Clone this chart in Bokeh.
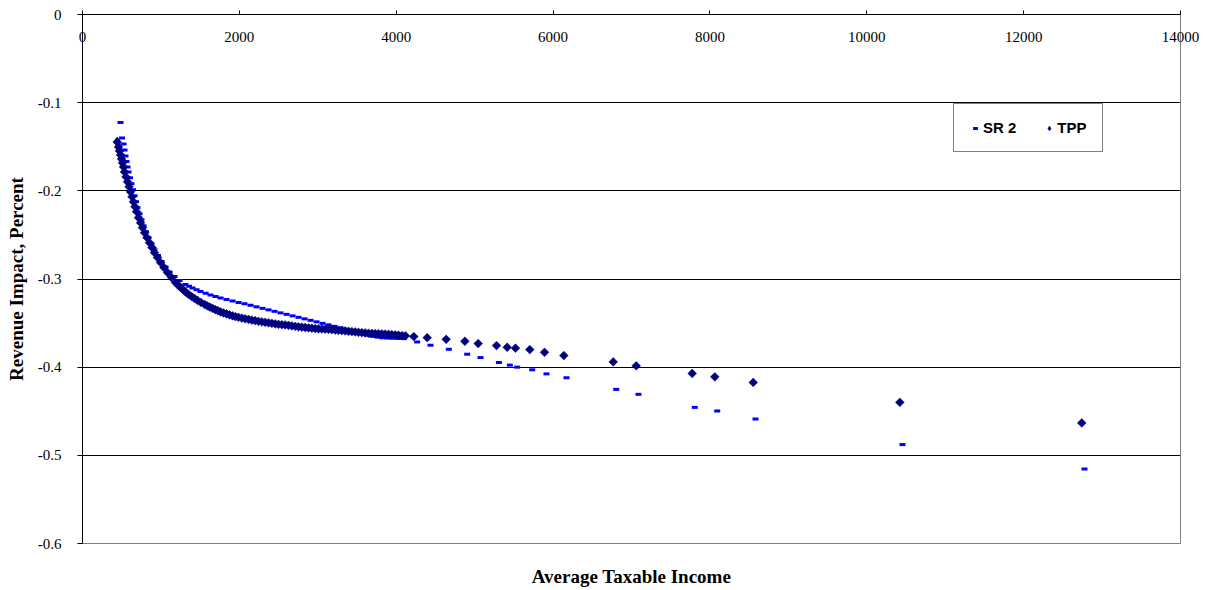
import math
from bokeh.plotting import figure
from bokeh.models import LinearAxis, FixedTicker, Legend, LegendItem, Grid, ColumnDataSource
from bokeh.embed import file_html
from bokeh.resources import INLINE

# ---------------- data ----------------
tpp_x = [442, 459, 472, 485, 497, 510, 523, 536, 555, 574, 593, 612, 631, 650, 669, 689,
         714, 740, 765, 791, 822, 854, 886, 918, 956, 995, 1039, 1084, 1135, 1186, 1218,
         1250, 1282, 1313, 1350, 1390, 1428, 1466, 1510,
         1556, 1590, 1624, 1658, 1692, 1726, 1760, 1798, 1836, 1874, 1912, 1950, 1989,
         2032, 2074, 2117, 2159, 2202, 2244, 2287, 2329, 2372, 2414, 2457, 2499, 2542,
         2584, 2627, 2669, 2712, 2754, 2797, 2839, 2882, 2924, 2967, 3009, 3052, 3094,
         3137, 3179, 3222, 3264, 3307, 3349, 3392, 3434, 3477, 3519, 3562, 3604, 3647,
         3689, 3732, 3774, 3817, 3859, 3902, 3944, 3987, 4029, 4074, 4118,
         4224, 4395, 4637, 4875, 5045, 5279, 5415, 5521, 5703, 5891, 6137, 6767, 7060,
         7774, 8062, 8552, 10421, 12741]
tpp_y = [-0.1446, -0.1503, -0.1548, -0.1593, -0.1638, -0.1684, -0.1729, -0.1785, -0.1842,
         -0.1898, -0.1955, -0.2011, -0.2068, -0.2124, -0.2181, -0.2237, -0.2305, -0.2362,
         -0.2418, -0.2475, -0.2531, -0.2588, -0.2644, -0.2701, -0.2757, -0.2814, -0.2870,
         -0.2927, -0.2983, -0.3040, -0.3069, -0.3096, -0.3122, -0.3147, -0.3173, -0.3198,
         -0.3221, -0.3243, -0.3266,
         -0.3288, -0.3304, -0.3318, -0.3333, -0.3347, -0.3360, -0.3373, -0.3385, -0.3396,
         -0.3407, -0.3417, -0.3426, -0.3435, -0.3443, -0.3451, -0.3458, -0.3466, -0.3473,
         -0.3480, -0.3486, -0.3491, -0.3497, -0.3503, -0.3509, -0.3514, -0.3518, -0.3521,
         -0.3525, -0.3531, -0.3537, -0.3542, -0.3546, -0.3550, -0.3554, -0.3558, -0.3562,
         -0.3565, -0.3567, -0.3569, -0.3571, -0.3575, -0.3579, -0.3582, -0.3586, -0.3589,
         -0.3593, -0.3597, -0.3601, -0.3605, -0.3609, -0.3612, -0.3616, -0.3618, -0.3619,
         -0.3621, -0.3623, -0.3625, -0.3627, -0.3631, -0.3634, -0.3638, -0.3641, -0.3644,
         -0.3653, -0.3665, -0.3684, -0.3706, -0.3732, -0.3755, -0.3774, -0.3785, -0.3800,
         -0.3831, -0.3868, -0.3940, -0.3985, -0.4071, -0.4110, -0.4173, -0.4399, -0.4633]

sr2_x = [485, 504, 523, 536, 548, 561, 574, 587, 606, 625, 644, 663, 682, 701, 727, 752,
         778, 810, 842, 880, 918, 963, 1007, 1058, 1109, 1173, 1237, 1313, 1358, 1403,
         1455, 1505, 1570, 1632, 1696, 1760, 1836, 1913, 1990, 2066, 2143, 2219, 2296,
         2372, 2449, 2525, 2602, 2678, 2755, 2831, 2908, 2984, 3061, 3137, 3214, 3290,
         3367, 3443, 3507, 3570, 3634, 3698, 3761, 3825, 3889, 3953, 4025,
         4097, 4267, 4437, 4671, 4905, 5075, 5309, 5449, 5542, 5734, 5916, 6171, 6805,
         7089, 7807, 8093, 8581, 10455, 12776]
sr2_y = [-0.1226, -0.1401, -0.1469, -0.1537, -0.1605, -0.1667, -0.1729, -0.1785, -0.1853,
         -0.1921, -0.1989, -0.2056, -0.2124, -0.2192, -0.2260, -0.2328, -0.2395, -0.2463,
         -0.2531, -0.2599, -0.2667, -0.2734, -0.2802, -0.2864, -0.2921, -0.2972, -0.3017,
         -0.3062, -0.3082, -0.3102, -0.3122, -0.3141, -0.3162, -0.3181, -0.3198, -0.3215,
         -0.3232, -0.3249, -0.3266, -0.3282, -0.3299, -0.3316, -0.3333, -0.3350, -0.3367,
         -0.3384, -0.3401, -0.3418, -0.3435, -0.3452, -0.3469, -0.3486, -0.3503, -0.3520,
         -0.3537, -0.3554, -0.3571, -0.3588, -0.3605, -0.3621, -0.3636, -0.3650, -0.3659,
         -0.3667, -0.3670, -0.3672, -0.3674,
         -0.3676, -0.3714, -0.3751, -0.3797, -0.3853, -0.3891, -0.3947, -0.3977, -0.4000,
         -0.4030, -0.4076, -0.4120, -0.4252, -0.4308, -0.4456, -0.4497, -0.4588, -0.4878,
         -0.5156]

x_ticks = [0, 2000, 4000, 6000, 8000, 10000, 12000, 14000]
x_tick_labels = ["0", "2000", "4000", "6000", "8000", "10000", "12000", "14000"]
y_ticks = [0, -0.1, -0.2, -0.3, -0.4, -0.5, -0.6]
y_tick_labels = ["0", "-0.1", "-0.2", "-0.3", "-0.4", "-0.5", "-0.6"]

x_title = "Average Taxable Income"
y_title = "Revenue Impact, Percent"
series_names = ["SR 2", "TPP"]

# ---------------- figure ----------------
SERIF = "Liberation Serif"
SANS = "Liberation Sans"
NAVY = "#000080"
BLUE = "#0000FF"

p = figure(width=1200, height=589,
           x_range=(0, 14000), y_range=(-0.6, 0),
           x_axis_location=None, toolbar_location=None, output_backend="svg",
           min_border_left=82, min_border_top=14, min_border_right=20, min_border_bottom=44,
           background_fill_color="white", border_fill_color="white")
p.outline_line_color = "#808080"
p.outline_line_width = 1
p.grid.visible = False

# y axis
ya = p.yaxis[0]
ya.ticker = FixedTicker(ticks=y_ticks)
ya.major_label_overrides = {t: s for t, s in zip(y_ticks, y_tick_labels)}
ya.major_label_text_font = SERIF
ya.major_label_text_font_size = "15px"
ya.major_label_text_color = "black"
ya.major_label_standoff = 16
ya.major_tick_out = 5
ya.major_tick_in = 0
ya.minor_tick_out = 0
ya.minor_tick_in = 0
ya.axis_line_color = "black"
ya.major_tick_line_color = "black"
ya.axis_label = y_title
ya.axis_label_text_font = SERIF
ya.axis_label_text_font_style = "bold"
ya.axis_label_text_font_size = "19px"
ya.axis_label_text_color = "black"
ya.axis_label_standoff = 8

# horizontal grid lines
grid = Grid(dimension=1, ticker=FixedTicker(ticks=y_ticks[1:-1]),
            grid_line_color="black", grid_line_width=1)
p.add_layout(grid)

# x axis along the top edge, labels pulled down under the line
xa = LinearAxis(ticker=FixedTicker(ticks=x_ticks),
                major_label_overrides={t: s for t, s in zip(x_ticks, x_tick_labels)},
                major_tick_in=0, major_tick_out=4, minor_tick_in=0, minor_tick_out=0,
                major_label_standoff=-31,
                major_label_text_font=SERIF, major_label_text_font_size="15px",
                major_label_text_color="black",
                axis_line_color="black", major_tick_line_color="black")
p.add_layout(xa, "above")

# axis carrying only the x title at the bottom
ta = LinearAxis(ticker=FixedTicker(ticks=[]), axis_label=x_title,
                axis_line_color=None, major_tick_line_color=None, minor_tick_line_color=None,
                major_tick_in=0, major_tick_out=0, minor_tick_in=0, minor_tick_out=0,
                major_label_text_font_size="0px",
                axis_label_text_font=SERIF, axis_label_text_font_style="bold",
                axis_label_text_font_size="19px", axis_label_text_color="black",
                axis_label_standoff=22)
p.add_layout(ta, "below")

# ---------------- series ----------------
src_sr2 = ColumnDataSource(data=dict(x=sr2_x, y=sr2_y))
src_tpp = ColumnDataSource(data=dict(x=tpp_x, y=tpp_y))

r_sr2 = p.scatter("x", "y", source=src_sr2, marker="dash", size=6,
                  line_color=BLUE, line_width=3)
r_tpp = p.scatter("x", "y", source=src_tpp, marker="square", angle=math.pi / 4, size=6.2,
                  fill_color=NAVY, line_color=NAVY, line_width=0.5)
# legend key for TPP: a diamond drawn on the first TPP point (hidden under it)
r_tpp_key = p.scatter(x=tpp_x[:1], y=tpp_y[:1], marker="diamond", size=10,
                      fill_color=NAVY, line_color=NAVY, line_width=0.5)

legend = Legend(items=[LegendItem(label=series_names[0], renderers=[r_sr2]),
                       LegendItem(label=series_names[1], renderers=[r_tpp_key])],
                orientation="horizontal", location=(871, 391), margin=0,
                padding=15, spacing=27, glyph_width=12, glyph_height=12,
                label_standoff=2, label_height=15,
                label_text_font=SANS, label_text_font_style="bold",
                label_text_font_size="15px", label_text_color="black",
                border_line_color="black", border_line_width=1,
                background_fill_color="white", background_fill_alpha=1)
p.add_layout(legend, "center")

open("out.html", "w").write(file_html(p, INLINE))
